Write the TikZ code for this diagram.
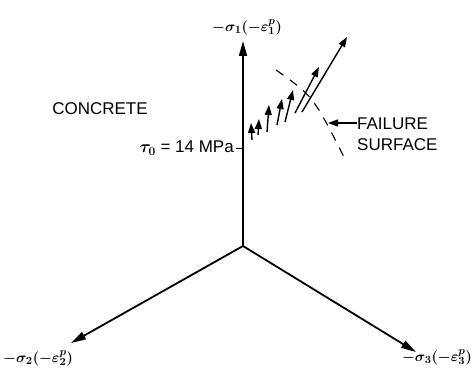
\documentclass[tikz,border=0pt]{standalone}
\usepackage{fontspec}
\setmainfont{Liberation Sans}
\usetikzlibrary{arrows.meta,positioning}
\tikzset{
 axis/.style={-{Triangle[length=15pt,width=8pt]},line width=1.8pt},
 incr/.style={-{Triangle[length=10pt,width=7pt]},line width=1.4pt},
 lbl/.style={font=\fontsize{17}{21}\selectfont\boldmath,inner sep=0pt,align=left},
 mlbl/.style={font=\fontsize{15}{18}\selectfont\boldmath,inner sep=0pt},
 surf/.style={dash pattern=on 9pt off 8pt,line width=1.1pt}
}
\begin{document}
\begin{tikzpicture}[x=1pt,y=-1pt]
\useasboundingbox (0,0) rectangle (473,377);
% axes
\coordinate (o) at (243,246);
\coordinate (s1) at (243,41);
\coordinate (s2) at (71,343);
\coordinate (s3) at (416,352);
\draw[axis] (o)--(s1);
\draw[axis] (o)--(s2);
\draw[axis] (o)--(s3);
\node[mlbl] (l1) at (247,27) {$-\sigma_1(-\varepsilon_1^p)$};
\node[mlbl,anchor=west] (l2) at (3,358) {$-\sigma_2(-\varepsilon_2^p)$};
\node[mlbl,anchor=east] (l3) at (472,357) {$-\sigma_3(-\varepsilon_3^p)$};
\node[lbl] (mat) at (100,109) {CONCRETE};
% initial shear stress
\coordinate (t0) at (243,148);
\coordinate (t0a) at (236,148);
\draw[line width=1pt] (t0a)--(t0);
\node[lbl,left=2pt of t0a] (tau) {$\tau_0$ = 14 MPa};
% increments along the loading path
\foreach \a/\b/\c/\d [count=\i] in {252/140/251/123,258/135/259/119,267/132/269/105,
  277/125/282/99,285/122/293/90,295/113/319/67,302/112/347/37}{
  \coordinate (p\i) at (\a,\b);
  \coordinate (q\i) at (\c,\d);
  \draw[incr] (p\i)--(q\i);
}
% failure surface
\coordinate (f1) at (276,70);
\coordinate (f2) at (344,157);
\draw[surf] (f1) .. controls (313,96) .. (f2);
\coordinate (fs) at (328,123);
\node[lbl,anchor=west] (fail) at (357,134) {FAILURE\\SURFACE};
\draw[incr,line width=1.2pt] (fail.west |- fs)--(fs);
\end{tikzpicture}
\end{document}
